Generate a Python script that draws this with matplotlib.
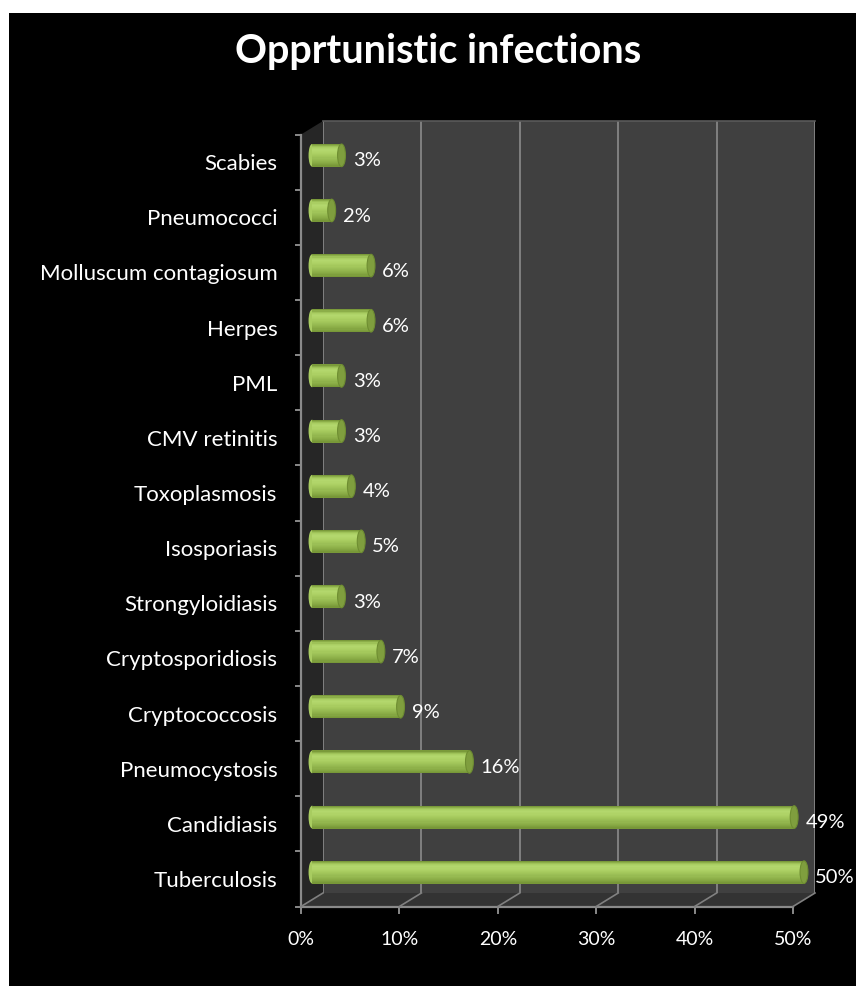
import matplotlib
matplotlib.use("Agg")
import matplotlib.pyplot as plt
from matplotlib import transforms
from matplotlib.colors import LinearSegmentedColormap
from matplotlib.patches import Polygon, Ellipse, Rectangle
from matplotlib.lines import Line2D
import numpy as np

plt.rcParams['font.family'] = ['Lato', 'DejaVu Sans']

title = 'Opprtunistic infections'
categories = ['Scabies', 'Pneumococci', 'Molluscum contagiosum', 'Herpes', 'PML',
              'CMV retinitis', 'Toxoplasmosis', 'Isosporiasis', 'Strongyloidiasis',
              'Cryptosporidiosis', 'Cryptococcosis', 'Pneumocystosis', 'Candidiasis',
              'Tuberculosis']
values = [3, 2, 6, 6, 3, 3, 4, 5, 3, 7, 9, 16, 49, 50]
xticks = [0, 10, 20, 30, 40, 50]

W, H, DPI = 856, 986, 100
fig = plt.figure(figsize=(W / DPI, H / DPI), dpi=DPI, facecolor='white')
# black panel with a thin white margin at top and left
fig.add_artist(Rectangle((9 / W, 0), 1, (H - 13) / H, transform=fig.transFigure,
                         facecolor='black', edgecolor='none', zorder=-10))

# back wall of the pseudo-3D plot
ax = fig.add_axes([323 / W, (H - 893) / H, 492 / W, 772 / H])
ax.set_facecolor('#404040')
ax.set_xlim(0, 50)
ax.set_ylim(-0.5, len(categories) - 0.5)
for s in ['left', 'right', 'bottom']:
    ax.spines[s].set_visible(False)
ax.spines['top'].set_color('#5a5a5a')
ax.spines['top'].set_linewidth(1.2)
ax.set_xticks([])
ax.set_yticks([])
for x in xticks:
    ax.axvline(x, color='#808080', lw=1.4, zorder=1)

# depth offsets (pixels) for front plane and bar plane
DX, DY = -22, -13.5
front = ax.transData + transforms.ScaledTranslation(DX / DPI, DY / DPI, fig.dpi_scale_trans)
mid = ax.transData + transforms.ScaledTranslation(DX / 2 / DPI, DY / 2 / DPI, fig.dpi_scale_trans)

ymin, ymax = -0.5, len(categories) - 0.5


def to_fig(tr, pts):
    return fig.transFigure.inverted().transform(tr.transform(pts))


# side wall and floor
side = np.vstack([to_fig(ax.transData, [(0, ymin), (0, ymax)]),
                  to_fig(front, [(0, ymax), (0, ymin)])])
fig.add_artist(Polygon(side, closed=True, transform=fig.transFigure,
                       facecolor='#262626', edgecolor='none', zorder=0))
floor = np.vstack([to_fig(ax.transData, [(0, ymin), (50, ymin)]),
                   to_fig(front, [(50, ymin), (0, ymin)])])
fig.add_artist(Polygon(floor, closed=True, transform=fig.transFigure,
                       facecolor='#333333', edgecolor='none', zorder=0))
for x in xticks:
    b = to_fig(ax.transData, [(x, ymin)])[0]
    f = to_fig(front, [(x, ymin)])[0]
    fig.add_artist(Line2D([b[0], f[0]], [b[1], f[1]], transform=fig.transFigure,
                          color='#808080', lw=1.2, zorder=1))

# front axes lines and ticks
ax.plot([0, 0], [ymin, ymax], transform=front, color='#8a8a8a', lw=1.6, clip_on=False, zorder=2)
ax.plot([0, 50], [ymin, ymin], transform=front, color='#8a8a8a', lw=1.6, clip_on=False, zorder=2)
for k in range(len(categories) + 1):
    yy = ymin + k
    ax.plot([-0.5, 0], [yy, yy], transform=front, color='#8a8a8a', lw=1.4, clip_on=False)
for x in xticks:
    ax.plot([x, x], [ymin, ymin - 0.11], transform=front, color='#8a8a8a', lw=1.4, clip_on=False)
    ax.annotate(f'{x}%', (x, ymin), xycoords=front, xytext=(0, -24), textcoords='offset points',
                ha='center', va='center', color='white', fontsize=14, annotation_clip=False)

# category labels
ypos = np.arange(len(categories))[::-1]
for cat, y in zip(categories, ypos):
    ax.annotate(cat, (0, y), xycoords=front, xytext=(-17, -1.5), textcoords='offset points',
                ha='right', va='center', color='white', fontsize=16, annotation_clip=False)

# cylinder bars
bar_h = 0.41
shade = LinearSegmentedColormap.from_list(
    'cyl', ['#7a9a3a', '#a6cb5f', '#b4d86e', '#afd367', '#a6ca5e', '#9cc056',
            '#92b54d', '#87a944', '#789838'])
nstrip = 20
for v, y in zip(values, ypos):
    ax.add_patch(Ellipse((0, y), 0.7, bar_h, transform=mid, facecolor='#a8cc60',
                         edgecolor='none', clip_on=False, zorder=3))
    for j in range(nstrip):
        yy = y + bar_h / 2 - (j + 0.5) * bar_h / nstrip
        ax.barh(yy, v, height=bar_h / nstrip * 1.3, color=shade(j / (nstrip - 1)),
                transform=mid, clip_on=False, zorder=4, linewidth=0, antialiased=False)
    ax.add_patch(Ellipse((v, y), 0.8, bar_h, transform=mid, facecolor='#7f9e3e',
                         edgecolor='#6e8d31', lw=0.8, clip_on=False, zorder=5))
    ax.annotate(f'{v}%', (v, y), xycoords=mid, xytext=(8, -4), textcoords='offset points',
                ha='left', va='center', color='white', fontsize=14.5, annotation_clip=False)

fig.text(438 / W, 1 - 52 / H, title, ha='center', va='center', color='white',
         fontsize=28.5, fontweight='bold')

fig.savefig('out.png', dpi=DPI, facecolor=fig.get_facecolor())
